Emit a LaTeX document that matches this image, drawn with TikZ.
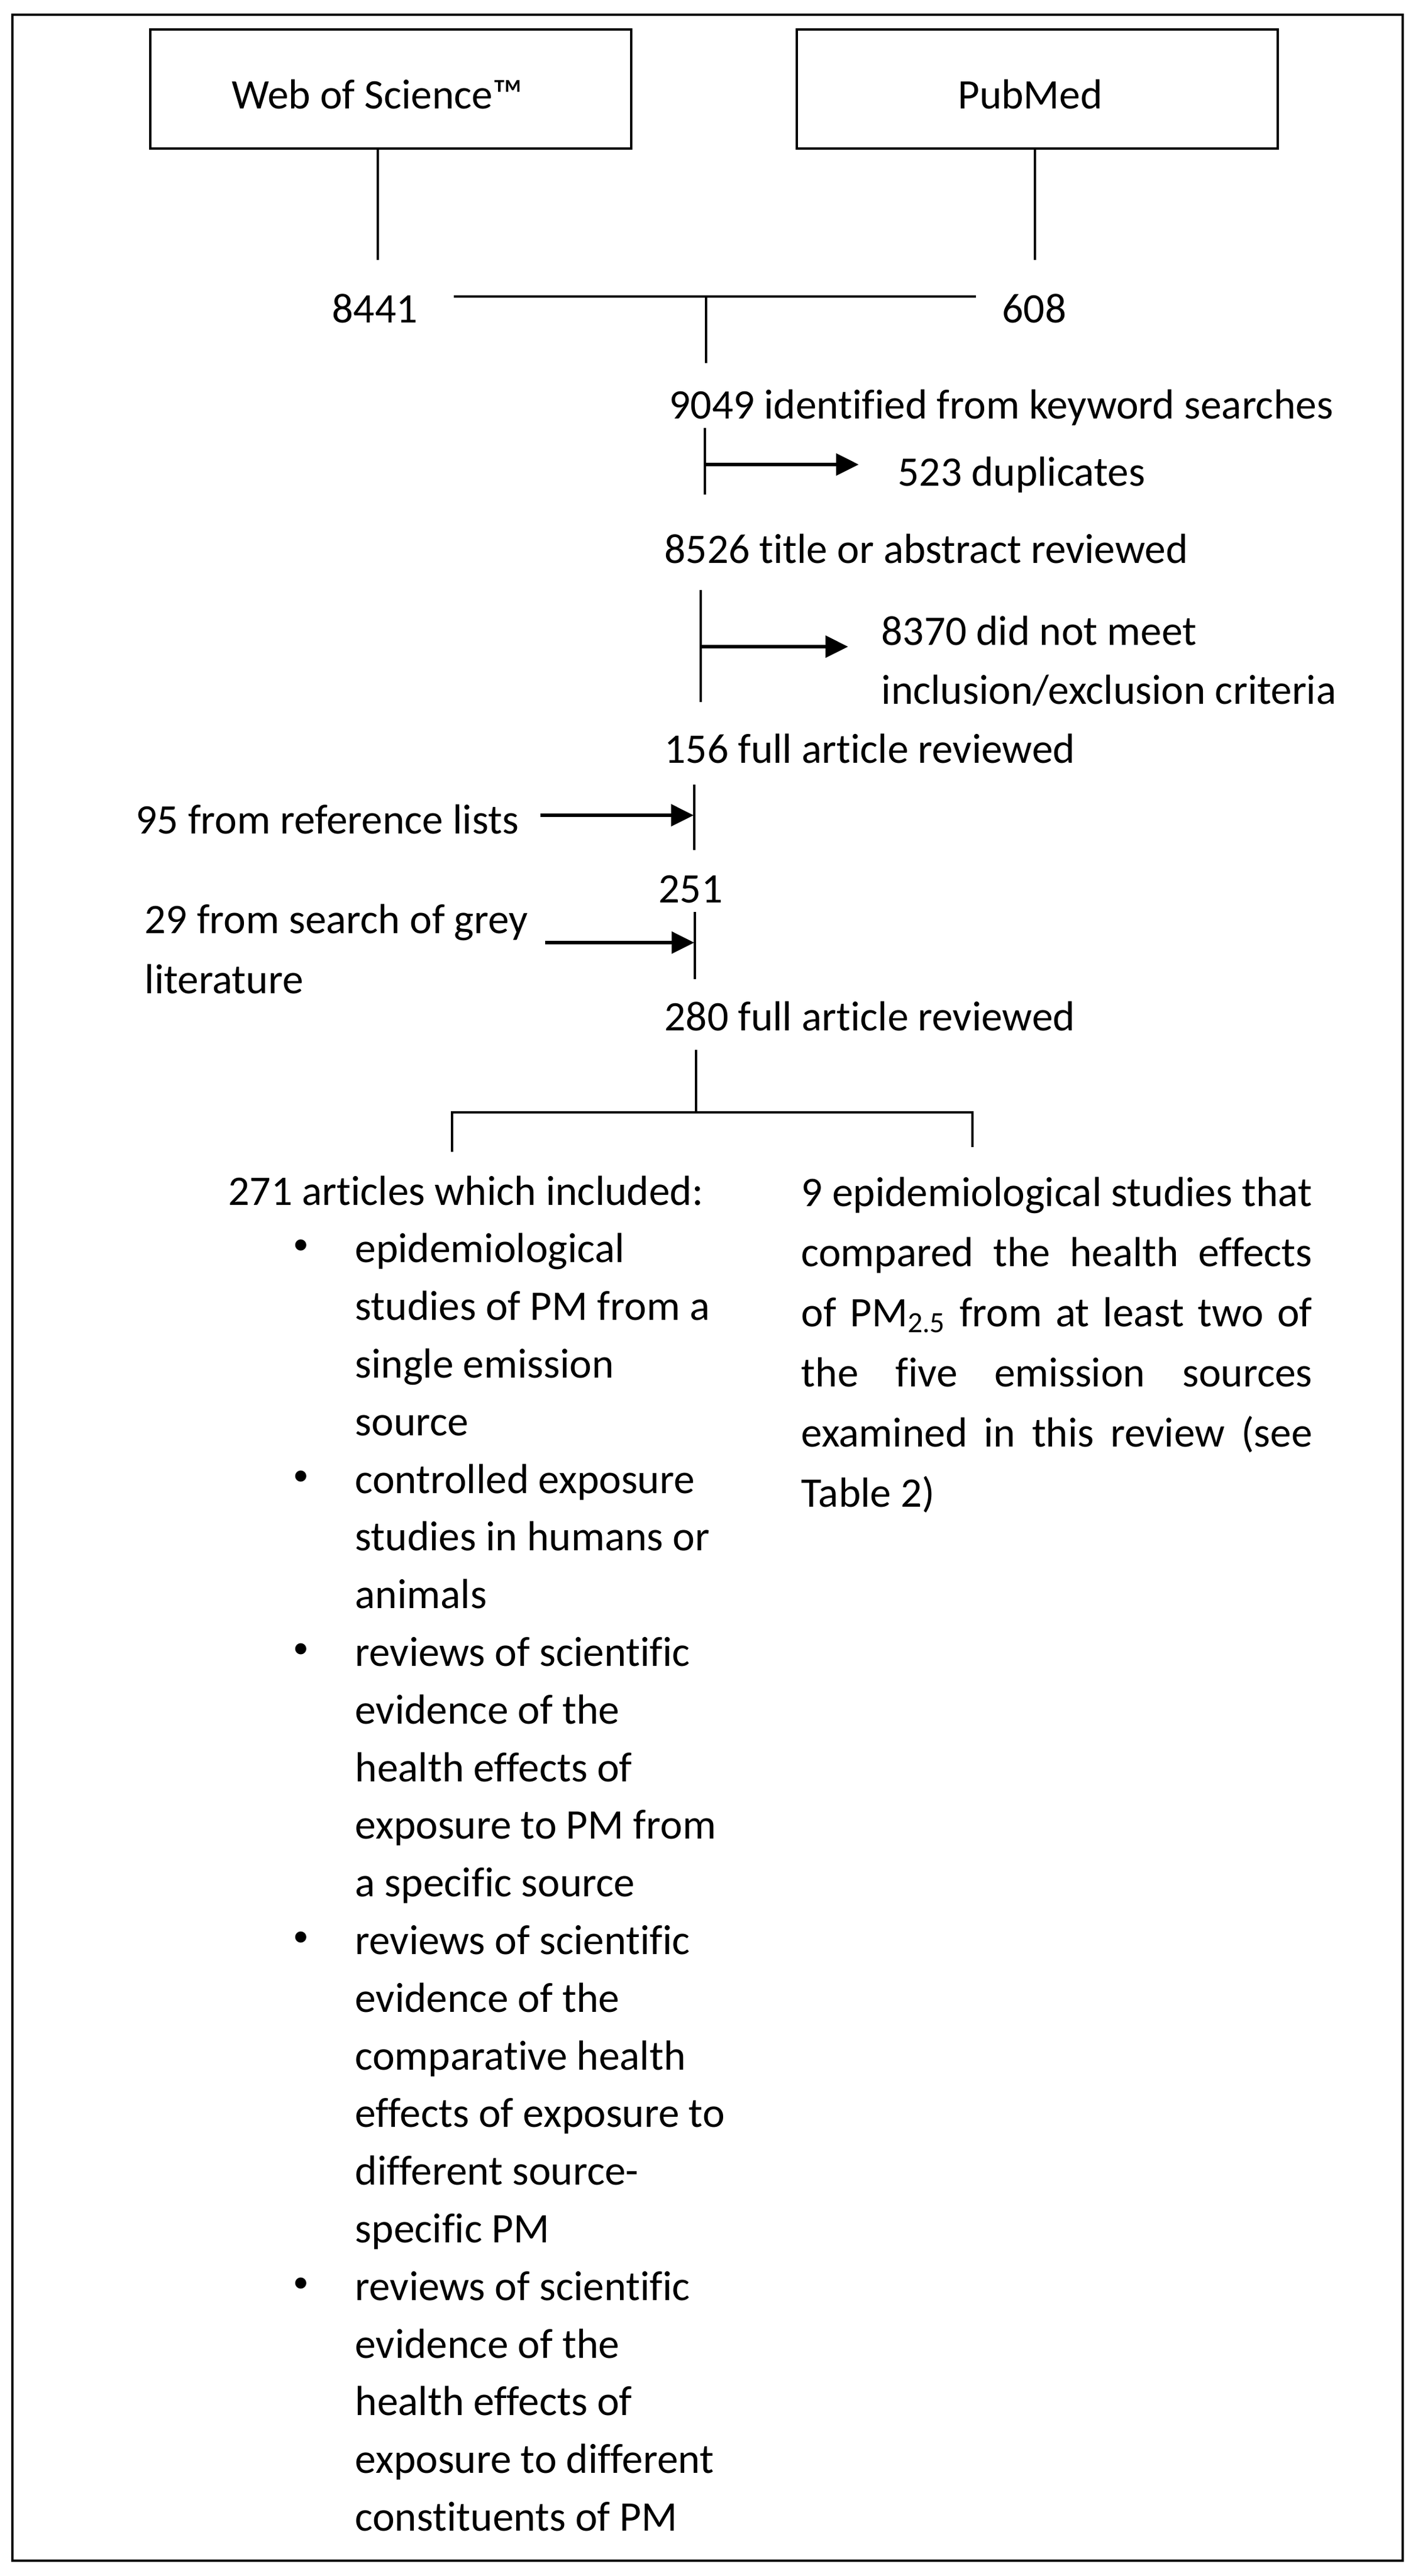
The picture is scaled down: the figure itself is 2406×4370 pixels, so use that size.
\documentclass[tikz,border=0pt]{standalone}
\usepackage{fontspec}
\setmainfont{Carlito}[Ligatures=CommonOff]
\usetikzlibrary{arrows.meta}
\begin{document}
\begin{tikzpicture}[x=0.3pt,y=-0.3pt,
  txt/.style={inner sep=0pt, anchor=base west, font=\fontsize{21.4}{29}\selectfont},
  ctxt/.style={txt, anchor=base},
  srcbox/.style={draw, line width=1.2pt, inner sep=0pt, minimum width=244.8pt, minimum height=60.6pt,
    text height=19.8pt, text depth=0pt, font=\fontsize{21.4}{29}\selectfont},
  ln/.style={line width=1.2pt},
  arr/.style={line width=1.6pt, -{Triangle[length=11.5pt,width=11pt]}},
  bul/.style={inner sep=0pt, anchor=base west, font=\fontsize{16}{20}\selectfont},
]
\useasboundingbox (0,0) rectangle (2406,4370);
\draw[line width=1.2pt] (21,25) rectangle (2380,4344);

% source boxes
\node[srcbox] (wos) at (663,151) {\hspace*{-13.8pt}Web of Science™};
\node[srcbox] (pub) at (1760,151) {\hspace*{-7.2pt}PubMed};

% counts
\node[ctxt] (n8441) at (636,547) {8441};
\node[ctxt] (n608) at (1755,547) {608};
\coordinate (wb) at (641,441);
\coordinate (pb) at (1756,441);
\draw[ln] (wos.south -| wb) -- (wb);
\draw[ln] (pub.south -| pb) -- (pb);
\coordinate (hl) at (770,503);
\coordinate (hr) at (1656,503);
\coordinate (hm) at (1198,503);
\coordinate (hmb) at (1198,616);
\draw[ln] (hl) -- (hr);
\draw[ln] (hm) -- (hmb);

\node[txt] (t9049) at (1135,710) {9049 identified from keyword searches};
\coordinate (v1t) at (1196,726);
\coordinate (v1b) at (1196,839);
\coordinate (a1s) at (1196,788);
\coordinate (a1e) at (1457,788);
\draw[ln] (v1t) -- (v1b);
\node[txt] (t523) at (1523,824) {523 duplicates};
\draw[arr] (a1s) -- (a1e);

\node[txt] (t8526) at (1127,955) {8526 title or abstract reviewed};
\coordinate (v2t) at (1189,1001);
\coordinate (v2b) at (1189,1191);
\coordinate (a2s) at (1189,1097);
\draw[ln] (v2t) -- (v2b);
\node[txt] (t8370) at (1495,1094) {8370 did not meet};
\node[txt] (t8370b) at (1495,1194) {inclusion/exclusion criteria};
\coordinate (a2e) at (1439,1097);
\draw[arr] (a2s) -- (a2e);

\node[txt] (t156) at (1127,1294) {156 full article reviewed};
\coordinate (v3t) at (1178,1331);
\coordinate (v3b) at (1178,1442);
\draw[ln] (v3t) -- (v3b);
\node[txt] (t95) at (230,1414) {95 from reference lists};
\coordinate (a3s) at (917,1383);
\coordinate (a3e) at (1177,1383);
\draw[arr] (a3s) -- (a3e);

\node[txt] (t251) at (1117,1531) {251};
\coordinate (v4t) at (1179,1547);
\coordinate (v4b) at (1179,1661);
\draw[ln] (v4t) -- (v4b);
\node[txt] (t29) at (245,1583) {29 from search of grey};
\node[txt] (t29b) at (245,1685) {literature};
\coordinate (a4s) at (925,1599);
\coordinate (a4e) at (1178,1599);
\draw[arr] (a4s) -- (a4e);

\node[txt] (t280) at (1127,1748) {280 full article reviewed};
\coordinate (v5t) at (1181,1781);
\coordinate (v5b) at (1181,1887);
\draw[ln] (v5t) -- (v5b);
\coordinate (bl) at (767,1887);
\coordinate (br) at (1650,1887);
\coordinate (bld) at (767,1954);
\coordinate (brd) at (1650,1946);
\draw[ln] (bld) -- (bl) -- (br) -- (brd);

% left list
\node[txt] (L0) at (387,2044) {271 articles which included:};
\foreach \t [count=\k] in {epidemiological, studies of PM from a, single emission, source,
  controlled exposure, studies in humans or, animals,
  reviews of scientific, evidence of the, health effects of, exposure to PM from, a specific source,
  reviews of scientific, evidence of the, comparative health, effects of exposure to, different source-, specific PM,
  reviews of scientific, evidence of the, health effects of, exposure to different, constituents of PM}
  {\node[txt] (L\k) at (602,2044+97.8*\k) {\t};}
\foreach \k in {1,5,8,13,19}
  {\node[bul] (B\k) at (497,2030+97.8*\k) {•};}

% right column
\foreach \t [count=\k from 0] in {9 epidemiological studies that, compared the health effects,
  of PM\textsubscript{2.5} from at least two of, the five emission sources, examined in this review (see}
  {\node[txt] (R\k) at (1359,2046+102*\k) {\makebox[260.1pt][s]{\t}};}
\node[txt] (R5) at (1359,2046+102*5) {Table 2)};
\end{tikzpicture}
\end{document}
